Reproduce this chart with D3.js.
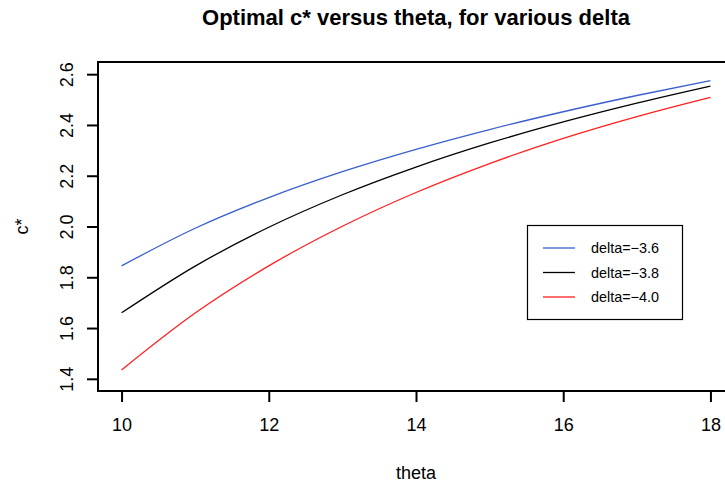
<!DOCTYPE html>
<html>
<head>
<meta charset="utf-8">
<script src="https://cdn.jsdelivr.net/npm/d3@7"></script>
<style>
  html, body { margin: 0; padding: 0; background: #fff; }
  svg { display: block; font-family: "Liberation Sans", Arial, Helvetica, sans-serif; }
</style>
</head>
<body>
<svg id="chart" width="725" height="489"></svg>
<script>
// ---- data ----
const theta = [10, 11, 12, 13, 14, 15, 16, 17, 18];
const cDeltaM36 = [1.845, 1.993, 2.114, 2.216, 2.304, 2.382, 2.452, 2.516, 2.575];
const cDeltaM38 = [1.660, 1.844, 1.997, 2.125, 2.234, 2.329, 2.412, 2.486, 2.553];
const cDeltaM40 = [1.435, 1.659, 1.845, 2.001, 2.134, 2.248, 2.347, 2.433, 2.509];
const seriesNames = ["delta=\u22123.6", "delta=\u22123.8", "delta=\u22124.0"];
const seriesColors = ["#3a5fcd", "#000000", "#ff2020"];
const xTicks = [10, 12, 14, 16, 18];
const yTicks = [1.4, 1.6, 1.8, 2.0, 2.2, 2.4, 2.6];

const series = [cDeltaM36, cDeltaM38, cDeltaM40];

const svg = d3.select("#chart");
const pL = 98, pR = 734, pT = 62, pB = 391;

const x = d3.scaleLinear().domain([9.68, 18.32]).range([pL, pR]);
const y = d3.scaleLinear().domain([1.352, 2.648]).range([pB, pT]);

// title
svg.append("text")
  .attr("x", (pL + pR) / 2).attr("y", 25)
  .attr("text-anchor", "middle")
  .attr("font-weight", "bold").attr("font-size", 22)
  .text("Optimal c* versus theta, for various delta");

// curves
const line = d3.line()
  .x((d, i) => x(theta[i]))
  .y(d => y(d))
  .curve(d3.curveMonotoneX);

series.forEach((s, k) => {
  svg.append("path")
    .attr("d", line(s))
    .attr("fill", "none")
    .attr("stroke", seriesColors[k])
    .attr("stroke-width", 1.3);
});

// box
svg.append("rect")
  .attr("x", pL).attr("y", pT)
  .attr("width", pR - pL).attr("height", pB - pT)
  .attr("fill", "none").attr("stroke", "#000").attr("stroke-width", 2);

// x axis
const xAxis = d3.axisBottom(x).tickValues(xTicks).tickSize(11).tickSizeOuter(0).tickPadding(16)
  .tickFormat(d3.format("d"));
const gx = svg.append("g").attr("transform", `translate(0,${pB})`).call(xAxis);
gx.select(".domain").remove();
gx.selectAll(".tick line").attr("stroke-width", 2);
gx.selectAll(".tick text").attr("font-size", 18).attr("font-family", null).attr("fill", "#000");

// y axis
const yAxis = d3.axisLeft(y).tickValues(yTicks).tickSize(11).tickSizeOuter(0)
  .tickFormat(d3.format(".1f"));
const gy = svg.append("g").attr("transform", `translate(${pL},0)`).call(yAxis);
gy.select(".domain").remove();
gy.selectAll(".tick line").attr("stroke-width", 2);
gy.selectAll(".tick text")
  .attr("font-size", 18).attr("font-family", null).attr("fill", "#000")
  .attr("x", null).attr("dy", null)
  .attr("text-anchor", "middle")
  .attr("transform", "translate(-25,0) rotate(-90)");

// axis labels
svg.append("text")
  .attr("x", (pL + pR) / 2).attr("y", 479)
  .attr("text-anchor", "middle").attr("font-size", 18)
  .text("theta");
svg.append("text")
  .attr("transform", `translate(28,${(pT + pB) / 2}) rotate(-90)`)
  .attr("text-anchor", "middle").attr("font-size", 18)
  .text("c*");

// legend
const lg = svg.append("g");
lg.append("rect")
  .attr("x", 527.5).attr("y", 225.5).attr("width", 155).attr("height", 94)
  .attr("fill", "#fff").attr("stroke", "#000").attr("stroke-width", 1.2);
seriesNames.forEach((name, k) => {
  const yy = 248 + k * 24.5;
  lg.append("line")
    .attr("x1", 543).attr("x2", 575).attr("y1", yy).attr("y2", yy)
    .attr("stroke", seriesColors[k]).attr("stroke-width", 1.3);
  lg.append("text")
    .attr("x", 591).attr("y", yy).attr("dy", "0.35em")
    .attr("font-size", 14.4)
    .text(name);
});
</script>
</body>
</html>
